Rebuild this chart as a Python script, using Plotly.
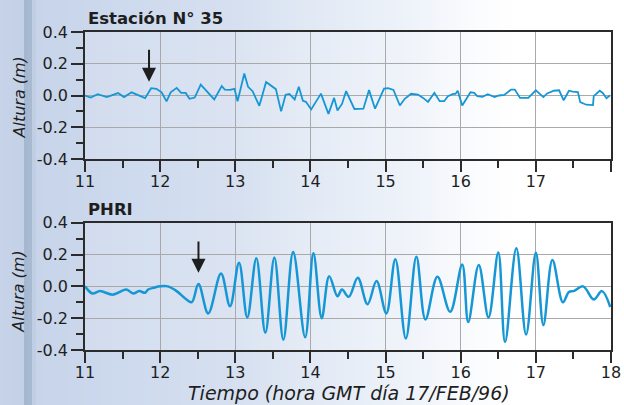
import plotly.graph_objects as go

# ---- Estación N° 35 (tide gauge, hours GMT, metres) ----
est_t = [11.00, 11.075, 11.17, 11.29, 11.44, 11.52, 11.62, 11.80, 11.88, 11.95,
         12.02, 12.085, 12.14, 12.22, 12.28, 12.34, 12.39, 12.46, 12.54, 12.72,
         12.82, 12.86, 12.93, 12.99, 13.03, 13.12, 13.17, 13.23, 13.32, 13.41,
         13.54, 13.61, 13.67, 13.72, 13.79, 13.845, 13.90, 13.94, 14.01, 14.14,
         14.24, 14.315, 14.36, 14.42, 14.475, 14.585, 14.705, 14.78, 14.86, 14.98,
         15.035, 15.105, 15.19, 15.255, 15.34, 15.43, 15.50, 15.565, 15.65, 15.72,
         15.78, 15.83, 15.90, 15.93, 15.96, 16.02, 16.13, 16.18, 16.22, 16.29,
         16.36, 16.40, 16.45, 16.51, 16.58, 16.67, 16.72, 16.79, 16.90, 17.00,
         17.10, 17.15, 17.24, 17.31, 17.37, 17.44, 17.49, 17.56, 17.59, 17.67,
         17.76, 17.77, 17.85, 17.89, 17.94, 17.985]
est_h = [0.000, -0.013, 0.008, -0.010, 0.015, -0.010, 0.020, -0.017, 0.046, 0.042,
         0.020, -0.037, 0.020, 0.048, 0.016, 0.016, -0.021, -0.013, 0.069, -0.025,
         0.060, 0.037, 0.036, 0.042, -0.037, 0.139, 0.055, 0.027, -0.065, 0.085,
         0.040, -0.100, 0.005, 0.010, -0.025, 0.055, -0.033, -0.040, -0.088, 0.012,
         -0.116, -0.015, -0.095, -0.053, 0.028, -0.085, -0.083, 0.034, -0.083, 0.043,
         0.046, 0.035, -0.063, -0.021, 0.011, 0.006, -0.015, -0.040, 0.017, -0.036,
         -0.036, -0.004, 0.010, 0.010, 0.030, -0.063, 0.020, 0.016, -0.004, -0.008,
         0.008, 0.002, -0.010, 0.000, 0.004, 0.037, 0.037, -0.015, -0.015, 0.033,
         -0.010, 0.013, 0.030, 0.033, -0.030, 0.030, 0.024, 0.022, -0.042, -0.058,
         -0.060, -0.004, 0.030, 0.016, -0.017, 0.000]

# ---- PHRI (hours GMT, metres) ----
phri_t = [11.00, 11.10, 11.20, 11.37, 11.55, 11.64, 11.72, 11.80, 11.84, 11.93,
          12.00, 12.10, 12.22, 12.33, 12.42, 12.51, 12.64, 12.81, 12.93, 13.05,
          13.16, 13.28, 13.40, 13.52, 13.64, 13.77, 13.93, 14.04, 14.15, 14.25,
          14.36, 14.42, 14.51, 14.63, 14.76, 14.88, 15.01, 15.13, 15.27, 15.41,
          15.53, 15.69, 15.86, 16.02, 16.10, 16.24, 16.37, 16.50, 16.59, 16.74,
          16.87, 17.00, 17.10, 17.22, 17.36, 17.44, 17.51, 17.63, 17.77, 17.88,
          17.99]
phri_h = [0.000, -0.045, -0.030, -0.052, -0.020, -0.045, -0.030, -0.040, -0.020, -0.007,
          0.000, 0.000, -0.030, -0.075, -0.100, 0.015, -0.170, 0.080, -0.125, 0.148,
          -0.196, 0.176, -0.292, 0.182, -0.335, 0.216, -0.320, 0.208, -0.200, 0.064,
          -0.062, -0.020, -0.066, 0.054, -0.112, 0.033, -0.170, 0.170, -0.328, 0.186,
          -0.208, 0.060, -0.160, 0.138, -0.224, 0.134, -0.196, 0.213, -0.350, 0.239,
          -0.303, 0.211, -0.244, 0.165, -0.100, -0.035, -0.028, 0.000, -0.083, -0.030,
          -0.130]

# arrival marks: (time, arrow tip height, arrow tail height)
est_arrival = (11.852, 0.086, 0.297)
phri_arrival = (12.51, 0.085, 0.291)

x_ticks = [11, 12, 13, 14, 15, 16, 17, 18]
y_ticks = [-0.4, -0.2, 0.0, 0.2, 0.4]
y_ticktext = ["-0.4", "-0.2", "0.0", "0.2", "0.4"]

LINE = "#1597d5"
AXIS = "#2b2b2b"
GRID = "#a9a9a9"
FONT = "DejaVu Sans"

fig = go.Figure()
fig.add_trace(go.Scatter(x=est_t, y=est_h, mode="lines", xaxis="x", yaxis="y",
                         line=dict(color=LINE, width=1.8), hoverinfo="skip"))
fig.add_trace(go.Scatter(x=phri_t, y=phri_h, mode="lines", xaxis="x2", yaxis="y2",
                         line=dict(color=LINE, width=2.5, shape="spline", smoothing=1.0),
                         hoverinfo="skip"))

W, H = 624, 405
ML, MR, MT, MB = 85, 13, 32, 55
PW, PH = W - ML - MR, H - MT - MB


def px_x(p):
    return (p - ML) / PW


def px_y(p):
    return (H - MB - p) / PH


common_x = dict(range=[11, 18], tickvals=x_ticks, showgrid=True, gridcolor=GRID, gridwidth=1.2,
                showline=True, linecolor=AXIS, linewidth=1.5, mirror=True,
                ticks="outside", ticklen=11, tickwidth=1.5, tickcolor=AXIS,
                ticklabelstandoff=-4, automargin=False,
                minor=dict(dtick=0.5, tick0=11, ticks="outside", ticklen=7, tickwidth=1.5,
                           tickcolor=AXIS, showgrid=False),
                zeroline=False, tickfont=dict(family=FONT, size=16, color="#1e1e1e"))
common_y = dict(range=[-0.4, 0.4], tickvals=y_ticks, ticktext=y_ticktext, showgrid=True,
                gridcolor=GRID, gridwidth=1.2, showline=True, linecolor=AXIS, linewidth=1.5,
                mirror=True, ticks="outside", ticklen=12, tickwidth=1.5, tickcolor=AXIS,
                automargin=False,
                minor=dict(dtick=0.1, tick0=0, ticks="outside", ticklen=7, tickwidth=1.5,
                           tickcolor=AXIS, showgrid=False),
                zeroline=False, tickfont=dict(family=FONT, size=16, color="#1e1e1e"))

top_lo = px_y(159)
bot_hi = px_y(222.7)

fig.update_layout(
    width=W, height=H,
    margin=dict(l=ML, r=MR, t=MT, b=MB, autoexpand=False),
    paper_bgcolor="#ffffff",
    plot_bgcolor="rgba(0,0,0,0)",
    showlegend=False,
    xaxis=dict(common_x, anchor="y", ticktext=["11", "12", "13", "14", "15", "16", "17", ""]),
    yaxis=dict(common_y, domain=[top_lo, 1.0], anchor="x"),
    xaxis2=dict(common_x, anchor="y2", ticktext=[str(v) for v in x_ticks]),
    yaxis2=dict(common_y, domain=[0.0, bot_hi], anchor="x2"),
)

# soft blue-to-white backdrop behind the panels
stops = [(0, (198, 211, 232)), (22, (195, 209, 231)), (26, (166, 184, 208)),
         (31, (169, 186, 209)), (35, (199, 212, 233)), (120, (205, 217, 237)),
         (240, (214, 224, 240)), (300, (224, 232, 244)), (360, (232, 238, 247)),
         (430, (241, 245, 251)), (470, (250, 251, 253)), (520, (255, 255, 255)),
         (624, (255, 255, 255))]


def backdrop_color(p):
    for (p0, c0), (p1, c1) in zip(stops[:-1], stops[1:]):
        if p0 <= p <= p1:
            f = (p - p0) / (p1 - p0) if p1 > p0 else 0
            return "rgb(%d,%d,%d)" % tuple(round(a + (b - a) * f) for a, b in zip(c0, c1))
    return "rgb(255,255,255)"


shapes = []
step = 4
for p in range(0, W, step):
    shapes.append(dict(type="rect", xref="paper", yref="paper", layer="below",
                       x0=px_x(p), x1=px_x(min(p + step + 0.5, W)), y0=px_y(H), y1=px_y(0),
                       line=dict(width=0), fillcolor=backdrop_color(p + step / 2)))
for xa, ya in (("x", "y"), ("x2", "y2")):
    shapes.append(dict(type="rect", xref=xa + " domain", yref=ya + " domain", layer="below",
                       x0=0, x1=1, y0=0, y1=1, line=dict(width=0),
                       fillcolor="rgba(255,255,255,0.14)"))
fig.update_layout(shapes=shapes)

ann = []
# panel titles
ann.append(dict(text="<b>Estación N° 35</b>", xref="paper", yref="paper", x=px_x(86), y=px_y(18),
                xanchor="left", yanchor="middle", showarrow=False,
                font=dict(family=FONT, size=16.5, color="#1e1e1e")))
ann.append(dict(text="<b>PHRI</b>", xref="paper", yref="paper", x=px_x(86), y=px_y(209),
                xanchor="left", yanchor="middle", showarrow=False,
                font=dict(family=FONT, size=16.5, color="#1e1e1e")))
# y-axis titles
for yc in (97.5, 291.7):
    ann.append(dict(text="<i>Altura (m)</i>", xref="paper", yref="paper", x=px_x(19), y=px_y(yc),
                    xanchor="center", yanchor="middle", textangle=-90, showarrow=False,
                    font=dict(family=FONT, size=16, color="#1e1e1e")))
# x-axis title
ann.append(dict(text="<i>Tiempo (hora GMT día 17/FEB/96)</i>", xref="paper", yref="paper",
                x=px_x(349), y=px_y(393), xanchor="center", yanchor="middle", showarrow=False,
                font=dict(family=FONT, size=19, color="#1e1e1e")))
# arrival arrows
for (t, tip, tail), xa, ya in ((est_arrival, "x", "y"), (phri_arrival, "x2", "y2")):
    ann.append(dict(text="", x=t, y=tip, ax=t, ay=tail, xref=xa, yref=ya, axref=xa, ayref=ya,
                    showarrow=True, arrowhead=2, arrowsize=1.4, arrowwidth=2,
                    arrowcolor="#1e1e1e", standoff=0))
fig.update_layout(annotations=ann)

fig.write_html("out.html")
